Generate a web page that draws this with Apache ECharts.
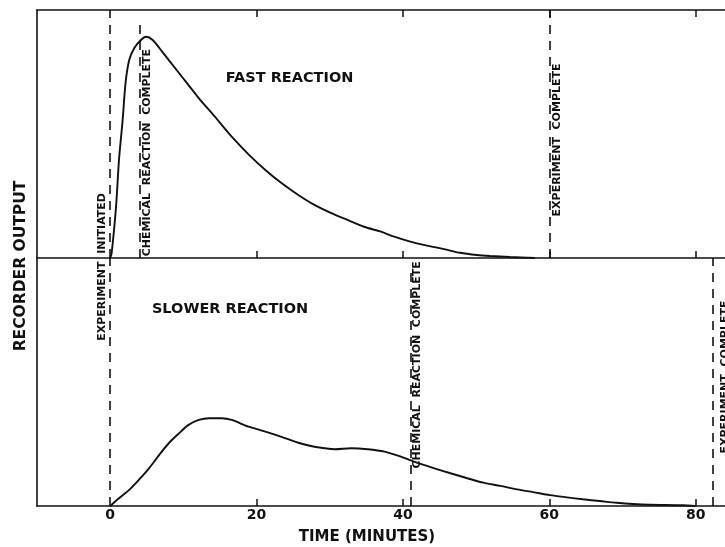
<!DOCTYPE html>
<html>
<head>
<meta charset="utf-8">
<script src="https://cdn.jsdelivr.net/npm/echarts@6/dist/echarts.min.js"></script>
<style>
html,body{margin:0;padding:0;background:#fff;}
#chart{width:725px;height:547px;}
</style>
</head>
<body>
<div id="chart"></div>
<script>
// ---- data ----
const fastTime  = [0,0.2,0.8,1.2,1.7,2.1,2.6,3.3,4.2,4.9,5.8,7.1,9.4,12.1,14.3,16.6,19.0,21.2,23.4,25.7,27.9,30.2,32.5,34.7,37.0,38.8,41.0,43.3,45.6,47.8,50.1,51.9,54.6,58];
const fastValue = [0,2,20.7,39.5,55.6,70.6,79.8,84.7,87.9,89.2,87.9,83.2,74.6,64.5,57,48.9,41.5,35.5,30.2,25.4,21.4,18.1,15.3,12.6,10.6,8.6,6.6,5.0,3.6,2.1,1.2,0.8,0.4,0];
const slowTime  = [0,1.2,2.6,3.9,5.3,6.7,8.0,9.4,10.7,12.1,13.5,15.3,16.6,18.9,21.2,23.4,25.7,27.9,30.7,32.9,35.2,37.5,39.7,41.5,44.3,46.5,48.8,51.0,53.3,55.6,57.8,60.1,62.4,64.6,66.9,69.2,71.4,73.7,78.2,80];
const slowValue = [0,3.1,6.5,10.5,15.2,20.6,25.3,29.3,32.7,34.7,35.4,35.4,34.7,32.0,30.0,27.9,25.5,23.9,22.9,23.3,22.9,21.9,19.9,17.9,15.2,13.2,11.2,9.4,8.1,6.7,5.6,4.4,3.5,2.7,2.0,1.3,0.8,0.5,0.3,0];

const fastEventTimes  = [0, 4, 60];
const fastEventLabels = ['', 'CHEMICAL  REACTION  COMPLETE', 'EXPERIMENT  COMPLETE'];
const slowEventTimes  = [0, 41, 82.3];
const slowEventLabels = ['EXPERIMENT  INITIATED', 'CHEMICAL  REACTION  COMPLETE', 'EXPERIMENT  COMPLETE'];

const tickValues  = [20, 40, 60, 80];
const tickLabels  = [0, 20, 40, 60, 80];
const panelTitles = ['FAST REACTION', 'SLOWER REACTION'];
const xTitle = 'TIME (MINUTES)';
const yTitle = 'RECORDER OUTPUT';

// ---- layout / style ----
const INK = '#111';
const FONT = 'DejaVu Sans';
const X_MIN = -10, X_MAX = 84;
const GRID_LEFT = 37, PANEL_H = 248, GRID_W = 692;

const fastLabelLayout = [null, {v: 42.5, dx: 8}, {v: 47.6, dx: 8}];
const slowLabelLayout = [{v: 96.4, dx: -8}, {v: 56.9, dx: 7}, {v: 52, dx: 13}];
const fastLineTop = [100, 96, 100];
const slowLineTop = [100, 96, 100];

function pairs(xs, ys){ return xs.map((x,i)=>[x, ys[i]]); }

function xAxisCfg(gridIndex, position, showLabels){
  return {
    type: 'value', gridIndex, position, min: X_MIN, max: X_MAX,
    axisLine: {show: true, onZero: false, lineStyle: {color: INK, width: 1.6}},
    axisTick: {show: true, inside: true, length: 7, customValues: tickValues, lineStyle: {color: INK, width: 1.5}},
    axisLabel: showLabels ? {show: true, customValues: tickLabels, margin: 2,
      color: INK, fontFamily: FONT, fontWeight: 'bold', fontSize: 14} : {show: false},
    splitLine: {show: false}
  };
}
function yAxisCfg(gridIndex){
  return {
    type: 'value', gridIndex, position: 'left', min: 0, max: 100,
    axisLine: {show: true, onZero: false, lineStyle: {color: INK, width: 1.6}},
    axisTick: {show: false}, axisLabel: {show: false}, splitLine: {show: false}
  };
}
function markLines(times, tops){
  return {
    silent: true, symbol: 'none', animation: false,
    label: {show: false},
    lineStyle: {color: INK, width: 1.6, type: [9, 7]},
    data: times.map((t, i) => [{coord: [t, 0]}, {coord: [t, tops[i]]}])
  };
}

const chart = echarts.init(document.getElementById('chart'), null, {renderer: 'canvas'});
chart.setOption({
  animation: false,
  backgroundColor: '#fff',
  grid: [
    {left: GRID_LEFT, top: 10, width: GRID_W, height: PANEL_H, show: false},
    {left: GRID_LEFT, top: 10 + PANEL_H, width: GRID_W, height: PANEL_H, show: false}
  ],
  xAxis: [
    xAxisCfg(0, 'bottom', false),
    xAxisCfg(0, 'top', false),
    xAxisCfg(1, 'bottom', true)
  ],
  yAxis: [yAxisCfg(0), yAxisCfg(1)],
  series: [
    {type: 'line', xAxisIndex: 0, yAxisIndex: 0, data: pairs(fastTime, fastValue),
     showSymbol: false, smooth: 0.3,
     lineStyle: {color: INK, width: 1.9}, markLine: markLines(fastEventTimes, fastLineTop)},
    {type: 'line', xAxisIndex: 2, yAxisIndex: 1, data: pairs(slowTime, slowValue),
     showSymbol: false, smooth: 0.3,
     lineStyle: {color: INK, width: 1.9}, markLine: markLines(slowEventTimes, slowLineTop)}
  ]
});

const graphics = [];
function addEventLabels(gridIndex, times, labels, layout){
  times.forEach((t, i) => {
    if (!labels[i]) return;
    const p = chart.convertToPixel({gridIndex}, [t, layout[i].v]);
    graphics.push({type: 'text', x: p[0] + layout[i].dx, y: p[1], rotation: Math.PI / 2,
      style: {text: labels[i], fill: INK, font: 'bold 11px "' + FONT + '"', align: 'center', verticalAlign: 'middle'}});
  });
}
addEventLabels(0, fastEventTimes, fastEventLabels, fastLabelLayout);
addEventLabels(1, slowEventTimes, slowEventLabels, slowLabelLayout);

const t1 = chart.convertToPixel({gridIndex: 0}, [15.8, 72.6]);
graphics.push({type: 'text', x: t1[0], y: t1[1],
  style: {text: panelTitles[0], fill: INK, font: 'bold 14.5px "' + FONT + '"', align: 'left', verticalAlign: 'middle'}});
const t2 = chart.convertToPixel({gridIndex: 1}, [5.7, 79.4]);
graphics.push({type: 'text', x: t2[0], y: t2[1],
  style: {text: panelTitles[1], fill: INK, font: 'bold 14.5px "' + FONT + '"', align: 'left', verticalAlign: 'middle'}});

graphics.push({type: 'text', x: 367, y: 537,
  style: {text: xTitle, fill: INK, font: 'bold 15px "' + FONT + '"', align: 'center', verticalAlign: 'middle'}});
graphics.push({type: 'text', x: 21, y: 266, rotation: Math.PI / 2,
  style: {text: yTitle, fill: INK, font: 'bold 15.5px "' + FONT + '"', align: 'center', verticalAlign: 'middle'}});

chart.setOption({graphic: graphics});
</script>
</body>
</html>
